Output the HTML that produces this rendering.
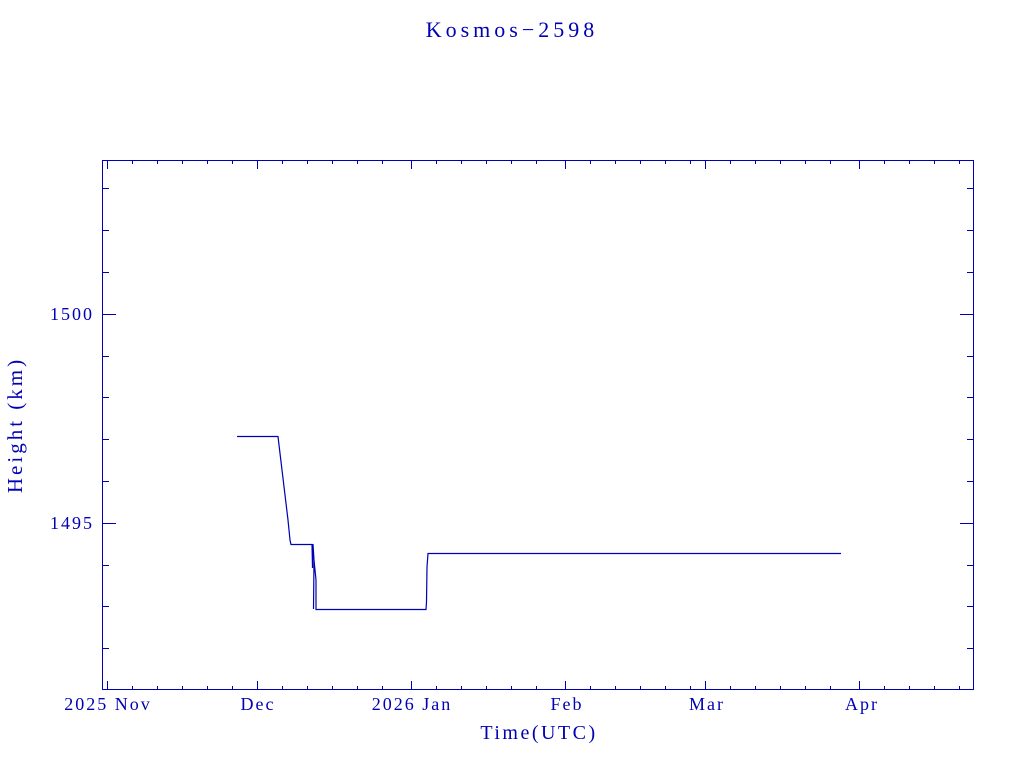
<!DOCTYPE html>
<html><head><style>html,body{margin:0;padding:0;background:#fff;}svg{display:block}</style></head>
<body>
<svg width="1024" height="768" xmlns="http://www.w3.org/2000/svg" font-family="Liberation Serif, serif" fill="#0000b4">
<text x="512" y="37" text-anchor="middle" font-size="22" letter-spacing="4">Kosmos−2598</text>
<rect x="102.5" y="160.5" width="871" height="529" fill="none" stroke="#0000b4" stroke-width="1"/>
<g stroke="#0000b4" stroke-width="1">
<path d="M103 314.5h13M973 314.5h-13M103 523.5h13M973 523.5h-13"/>
<path d="M103 188.5h6M103 230.5h6M103 272.5h6M103 356.5h6M103 397.5h6M103 439.5h6M103 481.5h6M103 565.5h6M103 606.5h6M103 648.5h6
M973 188.5h-6M973 230.5h-6M973 272.5h-6M973 356.5h-6M973 397.5h-6M973 439.5h-6M973 481.5h-6M973 565.5h-6M973 606.5h-6M973 648.5h-6"/>
<path d="M107.5 690v-9M257.5 690v-9M411.5 690v-9M565.5 690v-9M705.5 690v-9M859.5 690v-9
M107.5 160v9M257.5 160v9M411.5 160v9M565.5 160v9M705.5 160v9M859.5 160v9"/>
<path d="M132.5 690v-4M157.5 690v-4M182.5 690v-4M207.5 690v-4M232.5 690v-4M282.5 690v-4M307.5 690v-4M332.5 690v-4M357.5 690v-4M382.5 690v-4M436.5 690v-4M461.5 690v-4M486.5 690v-4M511.5 690v-4M536.5 690v-4M590.5 690v-4M615.5 690v-4M640.5 690v-4M665.5 690v-4M690.5 690v-4M730.5 690v-4M755.5 690v-4M780.5 690v-4M805.5 690v-4M830.5 690v-4M884.5 690v-4M909.5 690v-4M934.5 690v-4M959.5 690v-4
M132.5 160v4M157.5 160v4M182.5 160v4M207.5 160v4M232.5 160v4M282.5 160v4M307.5 160v4M332.5 160v4M357.5 160v4M382.5 160v4M436.5 160v4M461.5 160v4M486.5 160v4M511.5 160v4M536.5 160v4M590.5 160v4M615.5 160v4M640.5 160v4M665.5 160v4M690.5 160v4M730.5 160v4M755.5 160v4M780.5 160v4M805.5 160v4M830.5 160v4M884.5 160v4M909.5 160v4M934.5 160v4M959.5 160v4"/>
</g>
<g font-size="18" letter-spacing="2" text-anchor="middle">
<text x="108" y="710">2025 Nov</text>
<text x="258" y="710">Dec</text>
<text x="412" y="710">2026 Jan</text>
<text x="567" y="710">Feb</text>
<text x="707" y="710">Mar</text>
<text x="862" y="710">Apr</text>
<text x="72" y="320">1500</text>
<text x="72" y="529">1495</text>
</g>
<text x="539" y="739" text-anchor="middle" font-size="20" letter-spacing="2.5">Time(UTC)</text>
<text transform="translate(22,425) rotate(-90)" text-anchor="middle" font-size="21" letter-spacing="3">Height (km)</text>
<polyline fill="none" stroke="#0000b4" stroke-width="1.2" points="237,436.5 278,436.5 279,445 282,470 285,495 288,520 290,540 291,544.5 312,544.5 312.5,568 313,544 314,560 313.5,609 314,560 316,580 316,609.5 426,609.5 426.5,602 427,567 428,553.5 841,553.5"/>
</svg>
</body></html>
